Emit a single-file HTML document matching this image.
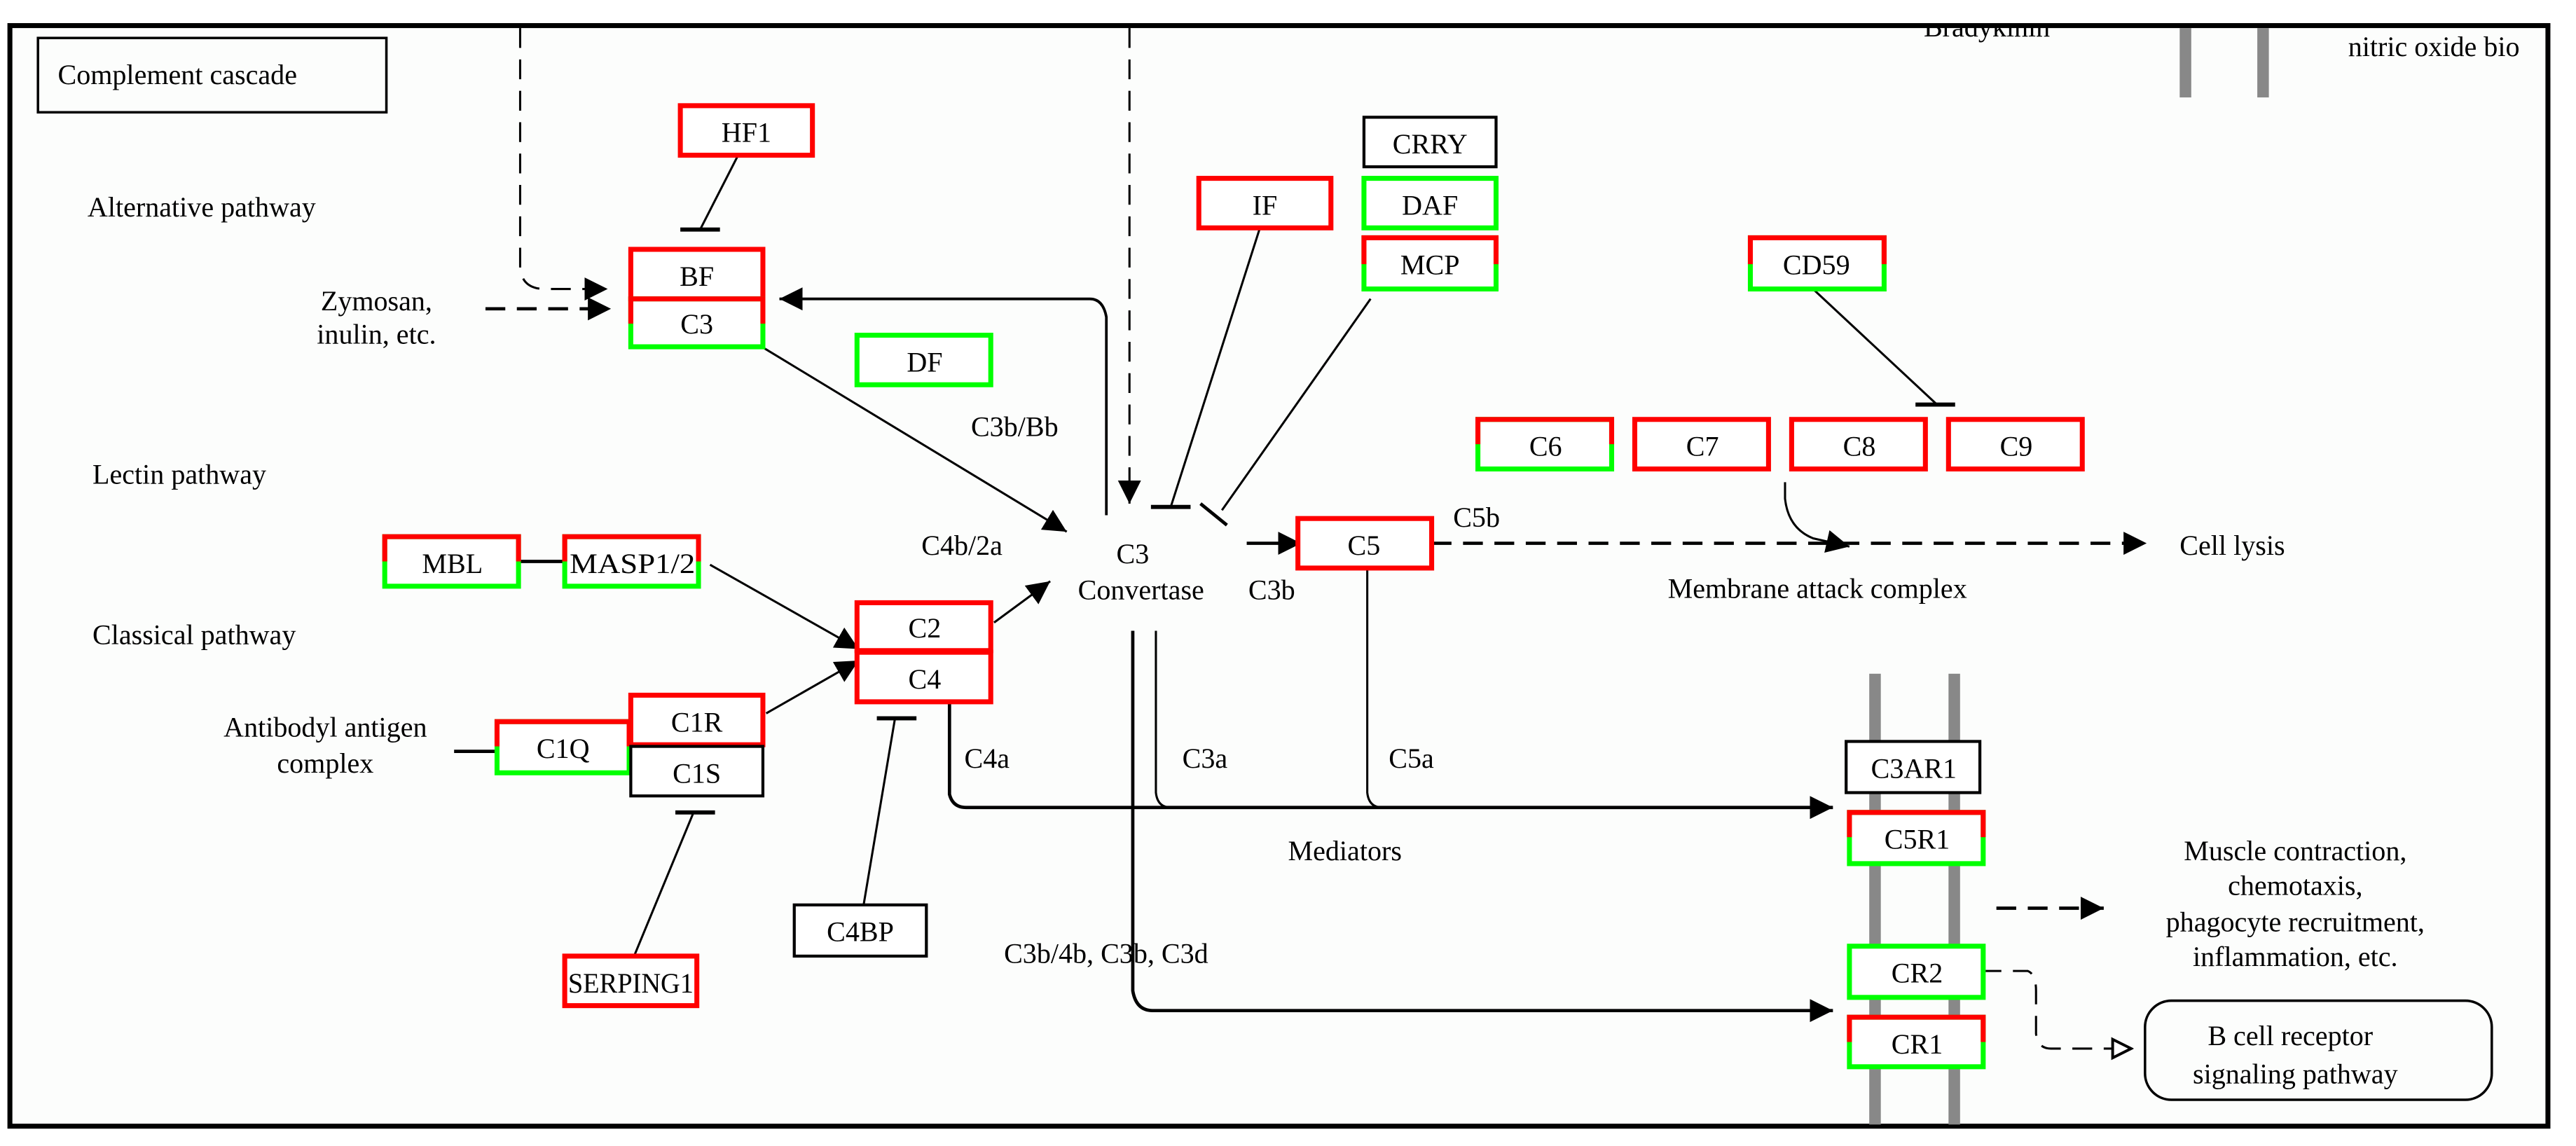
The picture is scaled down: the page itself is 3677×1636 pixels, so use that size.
<!DOCTYPE html>
<html><head><meta charset="utf-8"><style>
html,body{margin:0;padding:0;background:#fff;}
svg{display:block;}
svg text{font-family:"Liberation Serif","Times New Roman","DejaVu Serif",serif;font-size:17px;fill:#000;}
.n{text-anchor:middle;}
</style></head><body>
<svg width="3677" height="1636" viewBox="0 0 1560 694" preserveAspectRatio="none" xmlns="http://www.w3.org/2000/svg" font-family="Liberation Serif, serif">
<defs>
<marker id="a" viewBox="0 0 10 10" refX="10" refY="5" markerWidth="14" markerHeight="14" markerUnits="userSpaceOnUse" orient="auto"><path d="M0,0L10,5L0,10z" fill="#000"/></marker>
<marker id="o" viewBox="0 0 10 10" refX="10" refY="5" markerWidth="14" markerHeight="14" markerUnits="userSpaceOnUse" orient="auto"><path d="M1,1L9,5L1,9z" fill="#fff" stroke="#000" stroke-width="1.2"/></marker>
</defs>
<rect x="0" y="0" width="1560" height="694" fill="#fff"/>
<rect x="6" y="15.5" width="1537" height="666.5" fill="#fcfdfc" stroke="#000" stroke-width="3"/>

<g fill="#888">
<rect x="1320" y="17" width="7" height="42"/><rect x="1367" y="17" width="7" height="42"/>
<rect x="1132" y="408" width="7" height="273"/><rect x="1180" y="408" width="7" height="273"/>
</g>

<text x="1165" y="22" font-size="17">Bradykinin</text>
<text x="1422" y="34">nitric oxide bio</text>
<rect x="1544.5" y="17" width="16" height="30" fill="#fff"/>
<rect x="1160" y="0" width="120" height="14" fill="#fff"/>

<rect x="23" y="23" width="211" height="45" fill="none" stroke="#000" stroke-width="1.5"/>
<text x="35" y="51">Complement cascade</text>
<text x="53" y="131">Alternative pathway</text>
<text x="56" y="293">Lectin pathway</text>
<text x="56" y="390">Classical pathway</text>
<text class="n" x="228" y="188">Zymosan,</text>
<text class="n" x="228" y="208">inulin, etc.</text>
<text class="n" x="197" y="446">Antibodyl antigen</text>
<text class="n" x="197" y="468">complex</text>
<text x="588" y="264">C3b/Bb</text>
<text x="558" y="336">C4b/2a</text>
<text class="n" x="686" y="341">C3</text>
<text class="n" x="691" y="363">Convertase</text>
<text x="756" y="363">C3b</text>
<text x="880" y="319">C5b</text>
<text x="1010" y="362">Membrane attack complex</text>
<text x="1320" y="336">Cell lysis</text>
<text x="584" y="465">C4a</text>
<text x="716" y="465">C3a</text>
<text x="841" y="465">C5a</text>
<text x="780" y="521">Mediators</text>
<text x="608" y="583">C3b/4b, C3b, C3d</text>
<text class="n" x="1390" y="521">Muscle contraction,</text>
<text class="n" x="1390" y="542">chemotaxis,</text>
<text class="n" x="1390" y="564">phagocyte recruitment,</text>
<text class="n" x="1390" y="585">inflammation, etc.</text>
<rect x="1299" y="606" width="210" height="60" rx="16" fill="none" stroke="#000" stroke-width="1.5"/>
<text class="n" x="1387" y="633">B cell receptor</text>
<text class="n" x="1390" y="656">signaling pathway</text>

<g fill="none" stroke="#000" stroke-width="1.3">
<path d="M315,17V162Q316,175 330,175H368" stroke-dasharray="12,7" marker-end="url(#a)"/>
<path d="M294,187H370" stroke-dasharray="12,7" stroke-width="2" marker-end="url(#a)"/>
<path d="M684,17V305" stroke-dasharray="12,7" marker-end="url(#a)"/>
<path d="M447,94L424,139"/><path d="M412,139H436" stroke-width="2.5"/>
<path d="M670,312V192Q668,181 660,181H472" marker-end="url(#a)" stroke-width="1.6"/>
<path d="M463,211L646,322" marker-end="url(#a)"/>
<path d="M430,342L520,393" marker-end="url(#a)"/>
<path d="M464,432L520,400" marker-end="url(#a)"/>
<path d="M602,377L636,352" marker-end="url(#a)"/>
<path d="M314,340H342" stroke-width="2"/>
<path d="M275,455H301" stroke-width="2"/>
<path d="M763,138L709,307"/><path d="M697,307H721" stroke-width="2.5"/>
<path d="M830,181L740,309"/><path d="M727,305L743,318" stroke-width="2"/>
<path d="M1099,176L1173,245"/><path d="M1160,245H1184" stroke-width="2.5"/>
<path d="M755,329H788" stroke-width="2" marker-end="url(#a)"/>
<path d="M867,329H1300" stroke-dasharray="12,7" stroke-width="2" marker-end="url(#a)"/>
<path d="M1081,292V302Q1083,320 1098,326L1120,331" marker-end="url(#a)"/>
<path d="M384,579L420,492"/><path d="M409,492H433" stroke-width="2.5"/>
<path d="M523,548L542,435"/><path d="M531,435H555" stroke-width="2.5"/>
<path d="M575,426V481Q577,489 585,489H1110" stroke-width="2" marker-end="url(#a)"/>
<path d="M700,382V480Q701,489 709,489"/>
<path d="M828,344V480Q829,489 837,489"/>
<path d="M686,382V600Q688,612 698,612H1110" stroke-width="2" marker-end="url(#a)"/>
<path d="M1209,550H1274" stroke-dasharray="12,7" stroke-width="2" marker-end="url(#a)"/>
<path d="M1200,588H1228Q1233,590 1233,600V626Q1234,635 1242,635H1292" stroke-dasharray="12,7" marker-end="url(#o)"/>
</g>

<g stroke-width="3" fill="#fff">
<g stroke="#f00">
<rect x="412" y="64" width="80" height="30"/>
<rect x="726" y="108" width="80" height="30"/>
<rect x="382" y="151" width="80" height="30"/>
<rect x="786" y="314" width="81" height="30"/>
<rect x="990" y="254" width="81" height="30"/>
<rect x="1085" y="254" width="81" height="30"/>
<rect x="1180" y="254" width="81" height="30"/>
<rect x="519" y="365" width="81" height="29"/>
<rect x="519" y="395" width="81" height="30"/>
<rect x="382" y="421" width="80" height="30"/>
<rect x="342" y="579" width="80" height="30"/>
</g>
<g stroke="#0f0">
<rect x="519" y="203" width="81" height="30"/>
<rect x="826" y="108" width="80" height="30"/>
<rect x="1120" y="573" width="81" height="31"/>
<rect x="382" y="181" width="80" height="29"/>
<rect x="826" y="144" width="80" height="31"/>
<rect x="1060" y="144" width="81" height="31"/>
<rect x="895" y="254" width="81" height="30"/>
<rect x="233" y="325" width="81" height="30"/>
<rect x="342" y="325" width="81" height="30"/>
<rect x="301" y="437" width="80" height="31"/>
<rect x="1120" y="492" width="81" height="31"/>
<rect x="1120" y="616" width="81" height="30"/>
</g>
<g stroke="#f00" fill="none">
<path d="M382,196V181H462V196"/>
<path d="M826,160V144H906V160"/>
<path d="M1060,160V144H1141V160"/>
<path d="M895,269V254H976V269"/>
<path d="M233,340V325H314V340"/>
<path d="M342,340V325H423V340"/>
<path d="M301,452V437H381V452"/>
<path d="M1120,507V492H1201V507"/>
<path d="M1120,631V616H1201V631"/>
</g>
<g stroke="#000" stroke-width="1.8">
<rect x="826" y="71" width="80" height="30"/>
<rect x="382" y="452" width="80" height="30"/>
<rect x="1118" y="449" width="81" height="31"/>
<rect x="481" y="548" width="80" height="31"/>
</g>
</g>
<g>
<text class="n" x="452" y="86">HF1</text>
<text class="n" x="766" y="130">IF</text>
<text class="n" x="866" y="93">CRRY</text>
<text class="n" x="866" y="130">DAF</text>
<text class="n" x="866" y="166">MCP</text>
<text class="n" x="1100" y="166">CD59</text>
<text class="n" x="422" y="173">BF</text>
<text class="n" x="422" y="202">C3</text>
<text class="n" x="560" y="225">DF</text>
<text class="n" x="936" y="276">C6</text>
<text class="n" x="1031" y="276">C7</text>
<text class="n" x="1126" y="276">C8</text>
<text class="n" x="1221" y="276">C9</text>
<text class="n" x="826" y="336">C5</text>
<text class="n" x="274" y="347">MBL</text>
<text class="n" x="383" y="347" textLength="76" lengthAdjust="spacingAndGlyphs">MASP1/2</text>
<text class="n" x="560" y="386">C2</text>
<text class="n" x="560" y="417">C4</text>
<text class="n" x="422" y="443">C1R</text>
<text class="n" x="422" y="474">C1S</text>
<text class="n" x="341" y="459">C1Q</text>
<text class="n" x="382" y="601" textLength="76" lengthAdjust="spacingAndGlyphs">SERPING1</text>
<text class="n" x="521" y="570">C4BP</text>
<text class="n" x="1159" y="471">C3AR1</text>
<text class="n" x="1161" y="514">C5R1</text>
<text class="n" x="1161" y="595">CR2</text>
<text class="n" x="1161" y="638">CR1</text>
</g>
</svg>
</body></html>
